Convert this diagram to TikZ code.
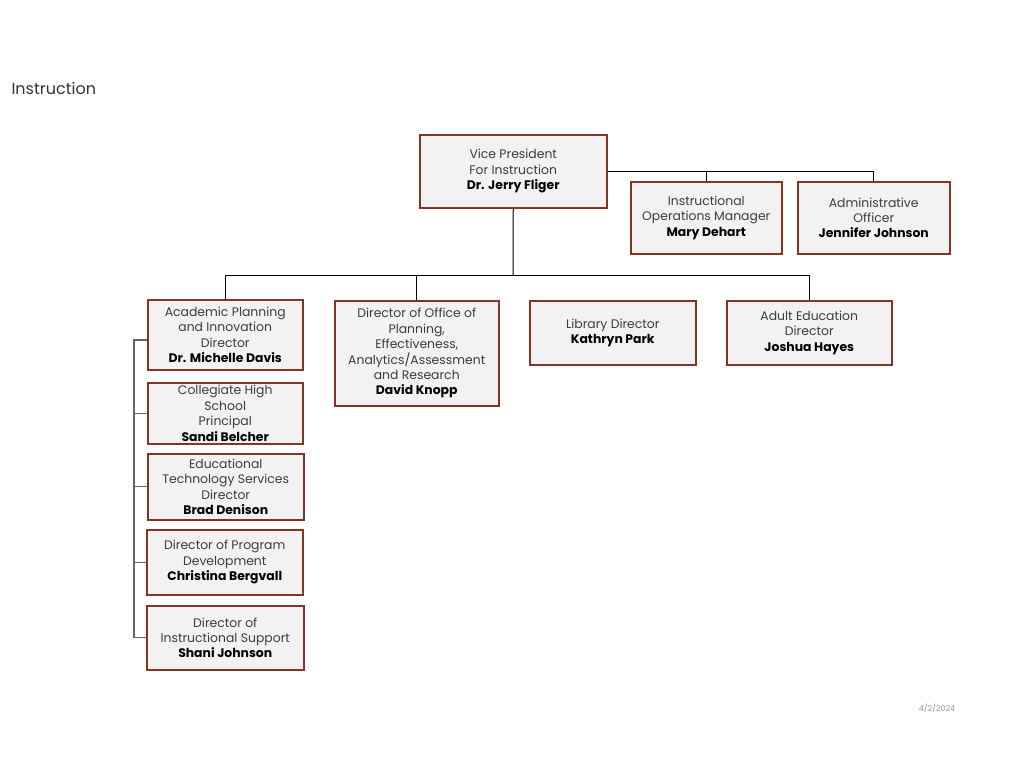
\documentclass[tikz,border=0pt]{standalone}
\usepackage{fontspec}
\setmainfont{Poppins}
\usetikzlibrary{positioning}

\definecolor{boxred}{RGB}{135,52,36}
\definecolor{boxgray}{RGB}{242,242,242}
\definecolor{spinegray}{RGB}{100,100,100}
\definecolor{txtgray}{RGB}{60,60,60}

\begin{document}
\begin{tikzpicture}[x=1pt, y=-1pt,
  orgbox/.style={draw=boxred, fill=boxgray, line width=1.5pt, align=center,
    anchor=north west, inner sep=0pt, text=txtgray,
    font=\fontsize{12.4}{15.4}\selectfont},
  link/.style={line width=1pt, black},
  spine/.style={line width=1.4pt, spinegray}]

\useasboundingbox (0,0) rectangle (1024,768);

% title and date
\node[anchor=west, text=black!80, font=\fontsize{16}{18}\selectfont] (title) at (8,88) {Instruction};
\node[text=black!40, font=\fontsize{8}{10}\selectfont] (date) at (937,708) {4/2/2024};

% top level
\node[orgbox, minimum width=187, minimum height=73] (vp) at (419,134)
  {Vice President\\For Instruction\\\textcolor{black}{\textbf{Dr. Jerry Fliger}}};
\node[orgbox, minimum width=151, minimum height=72] (ops) at (630,181)
  {Instructional\\Operations Manager\\\textcolor{black}{\textbf{Mary Dehart}}};
\node[orgbox, minimum width=152, minimum height=72] (adm) at (797,181)
  {Administrative\\Officer\\\textcolor{black}{\textbf{Jennifer Johnson}}};

% second row
\node[orgbox, minimum width=155, minimum height=70] (apd) at (147,299)
  {Academic Planning\\and Innovation\\Director\\\textcolor{black}{\textbf{Dr. Michelle Davis}}};
\node[orgbox, minimum width=164, minimum height=105] (dop) at (334,300)
  {Director of Office of\\Planning,\\Effectiveness,\\Analytics/Assessment\\and Research\\\textcolor{black}{\textbf{David Knopp}}};
\node[orgbox, minimum width=166, minimum height=64] (lib) at (529,300)
  {Library Director\\\textcolor{black}{\textbf{Kathryn Park}}};
\node[orgbox, minimum width=165, minimum height=64] (ae) at (726,300)
  {Adult Education\\Director\\\textcolor{black}{\textbf{Joshua Hayes}}};

% left column
\node[orgbox, minimum width=155, minimum height=61] (chs) at (147,382)
  {Collegiate High\\School\\Principal\\\textcolor{black}{\textbf{Sandi Belcher}}};
\node[orgbox, minimum width=156, minimum height=66] (ets) at (147,453)
  {Educational\\Technology Services\\Director\\\textcolor{black}{\textbf{Brad Denison}}};
\node[orgbox, minimum width=156, minimum height=65] (pdv) at (146,529)
  {Director of Program\\Development\\\textcolor{black}{\textbf{Christina Bergvall}}};
\node[orgbox, minimum width=157, minimum height=64] (sup) at (146,605)
  {Director of\\Instructional Support\\\textcolor{black}{\textbf{Shani Johnson}}};

% staff line
\draw[link] (vp.east) -| (adm.north);
\draw[link] (ops.north) -- (ops.north |- vp.east);

% bus to second row
\coordinate (bus) at (513,275);
\draw[link] (vp.south) -- (bus);
\draw[link] (apd.north) -- (apd.north |- bus) -- (ae.north |- bus) -- (ae.north);
\draw[link] (dop.north) -- (dop.north |- bus);

% left spine
\coordinate (spinetop) at (134,340);
\draw[spine] (apd.west |- spinetop) -- (spinetop) -- (spinetop |- sup.west) -- (sup.west);
\foreach \n in {chs,ets,pdv}
  \draw[spine] (spinetop |- \n.west) -- (\n.west);

\end{tikzpicture}
\end{document}
